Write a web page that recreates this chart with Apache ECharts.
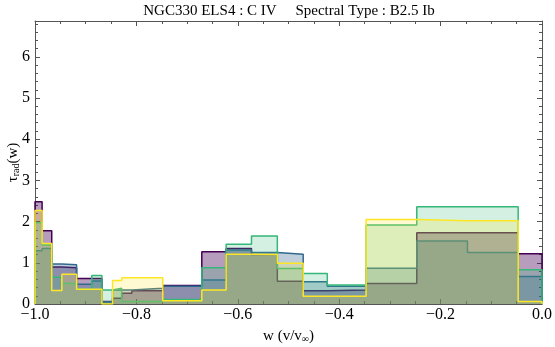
<!DOCTYPE html>
<html><head><meta charset="utf-8">
<script src="https://cdn.jsdelivr.net/npm/echarts@6/dist/echarts.min.js"></script>
<style>html,body{margin:0;padding:0;background:#fff}#c{width:555px;height:347px}</style>
</head><body><div id="c"></div>
<script>
const binEdges = [-1.0,-0.986,-0.967,-0.947,-0.918,-0.888,-0.868,-0.847,-0.829,-0.809,-0.748,-0.671,-0.623,-0.573,-0.522,-0.471,-0.4235,-0.347,-0.247,-0.147,-0.047,0.0];
const purpleVals = [2.48,1.78,0.90,0.88,0.62,0.62,0.06,0.14,0.26,0.32,0.45,1.27,1.35,1.20,0.55,0.32,0.34,0.50,1.73,1.73,1.22];
const blueVals   = [1.29,1.35,0.97,0.95,0.48,0.56,0.05,0.34,0.34,0.38,0.43,0.58,1.31,1.25,1.21,0.54,0.43,0.87,1.53,1.25,0.67];
const greenVals  = [1.97,1.43,0.65,0.50,0.36,0.69,0.34,0.38,0.06,0.06,0.11,0.88,1.45,1.65,0.86,0.74,0.46,1.92,2.36,2.36,0.83];
const yellowVals = [2.27,1.47,0.33,0.72,0.36,0.36,0.00,0.57,0.64,0.64,0.08,0.34,1.21,1.20,0.99,0.19,0.19,2.05,2.02,2.02,0.06];
const xTicks = [-1.0,-0.8,-0.6,-0.4,-0.2,0.0];
const yTicks = [0,1,2,3,4,5,6];
const titleText = 'NGC330 ELS4 : C IV     Spectral Type : B2.5 Ib';

function stepData(vals){
  const d = [[binEdges[0],0]];
  for(let i=0;i<vals.length;i++) d.push([binEdges[i],vals[i]]);
  d.push([binEdges[binEdges.length-1],vals[vals.length-1]]);
  d.push([binEdges[binEdges.length-1],0]);
  return d;
}
const F = 'Liberation Serif';
const chart = echarts.init(document.getElementById('c'));
const colors = ['#440154','#31688e','#35b779','#fde725'];
const fills = ['rgba(68,1,84,0.55)','rgba(49,104,142,0.45)','rgba(53,183,121,0.3)','rgba(253,231,37,0.3)'];
const names = ['p','b','g','y'];
const all = [purpleVals,blueVals,greenVals,yellowVals];
const xFmt = v => { if(Math.abs(v)<1e-9) return '0.0'; return (v<0?'\u2212':'')+Math.abs(v).toFixed(1); };
const axisCommon = {
  axisLine:{show:true,onZero:false,lineStyle:{color:'#555',width:1}},
  axisTick:{show:true,inside:true,length:5,lineStyle:{color:'#555'}},
  splitLine:{show:false}
};
const xMinor = {minorTick:{show:true,splitNumber:4,length:3,lineStyle:{color:'#555'}}};
const yMinor = {minorTick:{show:true,splitNumber:5,length:3,lineStyle:{color:'#555'}}};
chart.setOption({
  animation:false,
  graphic:[{type:'text',x:289,y:11,style:{text:titleText,fontFamily:F,fontSize:15,fill:'#000',align:'center',verticalAlign:'middle'}}],
  grid:{left:35,right:13,top:21,bottom:43,containLabel:false,outerBoundsMode:'none'},
  xAxis:[
    Object.assign({type:'value',min:-1,max:0,interval:0.2,position:'bottom',
      axisLabel:{formatter:xFmt,fontFamily:F,fontSize:16,color:'#000',margin:3},
      name:'w (v/v{s|∞})',nameLocation:'middle',nameGap:24,nameMoveOverlap:false,
      nameTextStyle:{fontFamily:F,fontSize:15,color:'#000',rich:{s:{fontFamily:F,fontSize:10,verticalAlign:'bottom',padding:[6,0,0,0]}}}
    },axisCommon,xMinor),
    Object.assign({type:'value',min:-1,max:0,interval:0.2,position:'top',axisLabel:{show:false}},axisCommon,xMinor)
  ],
  yAxis:[
    Object.assign({type:'value',min:0,max:6.87,interval:1,position:'left',
      axisLabel:{showMaxLabel:false,formatter:v=>Number.isInteger(v)?String(v):'',fontFamily:F,fontSize:16,color:'#000',margin:5},
      name:'τ{s|rad}(w)',nameLocation:'middle',nameGap:14,nameRotate:90,nameMoveOverlap:false,
      nameTextStyle:{fontFamily:F,fontSize:15,color:'#000',rich:{s:{fontFamily:F,fontSize:10,padding:[0,0,-6,0]}}}
    },axisCommon,yMinor),
    Object.assign({type:'value',min:0,max:6.87,interval:1,position:'right',axisLabel:{show:false}},axisCommon,yMinor)
  ],
  series: all.map((v,i)=>({
    name:names[i],type:'line',step:'end',data:stepData(v),symbol:'none',
    lineStyle:{color:colors[i],width:1.5},
    areaStyle:{color:fills[i],origin:0},
    z:2+i
  }))
});
</script></body></html>
